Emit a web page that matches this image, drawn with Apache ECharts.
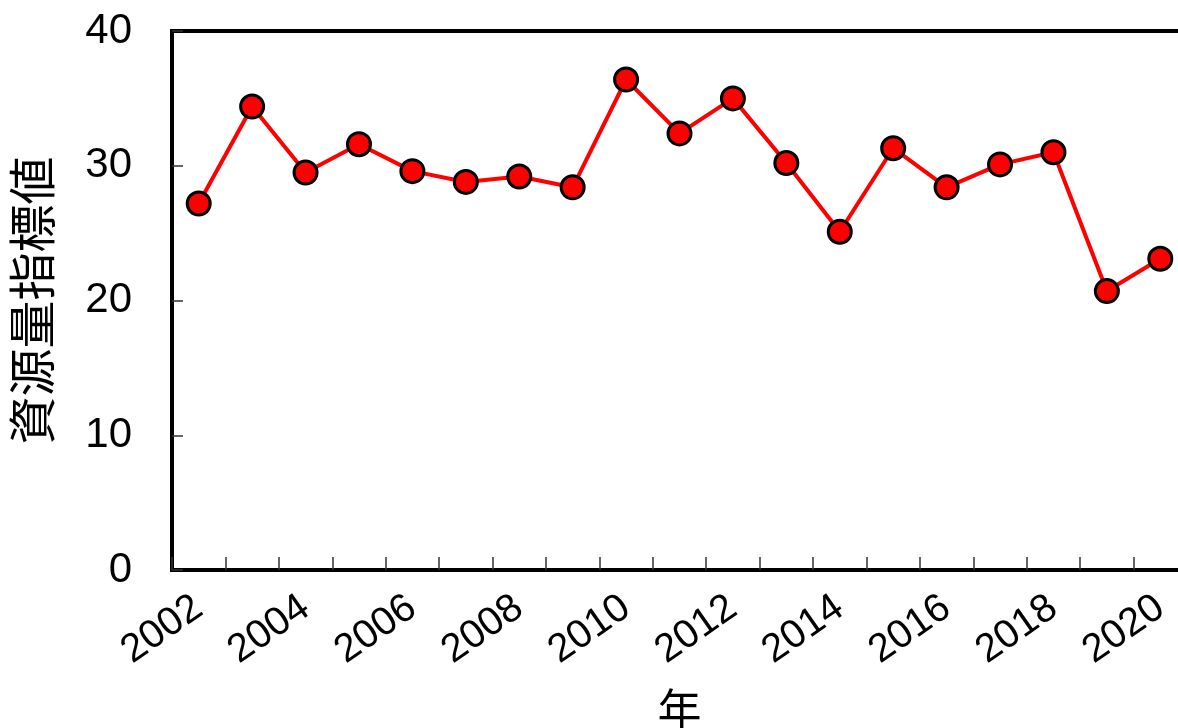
<!DOCTYPE html>
<html><head><meta charset="utf-8">
<script src="https://cdn.jsdelivr.net/npm/echarts@6/dist/echarts.min.js"></script>
<style>html,body{margin:0;padding:0;background:#fff;overflow:hidden}#c{width:1190px;height:728px}</style>
</head><body><div id="c"></div>
<script>
const years = ['2002','2003','2004','2005','2006','2007','2008','2009','2010','2011','2012','2013','2014','2015','2016','2017','2018','2019','2020'];
const values = [27.2,34.4,29.5,31.6,29.6,28.8,29.2,28.4,36.4,32.4,35.0,30.2,25.1,31.3,28.4,30.1,31.0,20.7,23.1];
const yTicks = [0,10,20,30,40];
const xName = '年';
const yName = '資源量指標値';
const font = '"Liberation Sans", Arial, "Noto Sans CJK JP", sans-serif';
const chart = echarts.init(document.getElementById('c'));
chart.setOption({
  animation:false,
  grid:{left:172,top:31,right:3,bottom:158,show:true,borderColor:'#000',borderWidth:4,backgroundColor:'transparent',
    containLabel:false,outerBoundsMode:'none'},
  xAxis:{type:'category',data:years,boundaryGap:true,
    name:xName,nameLocation:'middle',nameGap:117,nameTextStyle:{fontSize:44,color:'#000',fontFamily:'"Noto Sans CJK JP", sans-serif'},
    axisLine:{lineStyle:{color:'#000',width:4}},
    axisTick:{show:true,interval:0,inside:true,length:13,lineStyle:{color:'#333',width:1.5}},
    axisLabel:{interval:1,rotate:35,fontSize:40,color:'#000',fontFamily:font,margin:34},
    splitLine:{show:false}},
  yAxis:{type:'value',min:0,max:40,interval:10,
    name:yName,nameLocation:'middle',nameGap:116,nameTextStyle:{fontSize:48,color:'#000',fontFamily:'"Noto Sans CJK JP", sans-serif'},
    axisLine:{show:true,lineStyle:{color:'#000',width:4}},
    axisTick:{show:true,inside:true,length:11,lineStyle:{color:'#333',width:1.5}},
    axisLabel:{fontSize:42,color:'#000',fontFamily:font,margin:40,
      formatter:v=>yTicks.includes(v)?String(v):''},
    splitLine:{show:false}},
  series:[{type:'line',data:values,symbol:'circle',symbolSize:23,
    lineStyle:{color:'#ff0000',width:4},
    itemStyle:{color:'#ff0000',borderColor:'#000',borderWidth:3}}]
});
</script></body></html>
